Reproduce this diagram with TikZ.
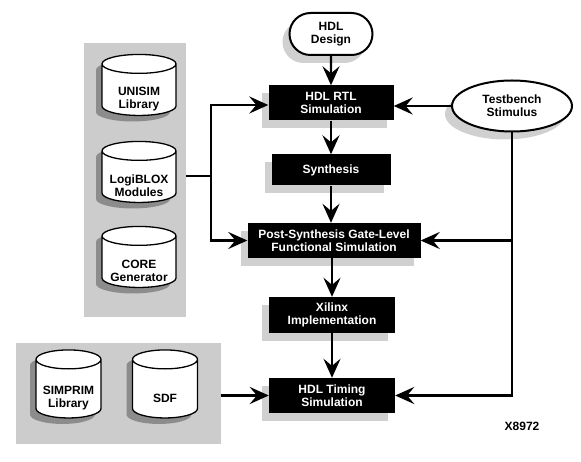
\documentclass[tikz,border=0pt]{standalone}
\usepackage{fontspec}
\setmainfont{Liberation Sans}
\usepackage{tikz}
\usetikzlibrary{calc, positioning, arrows.meta, shapes.geometric, shapes.misc, shadows}

\definecolor{panelgray}{RGB}{204,204,204}
\definecolor{boxshade}{RGB}{208,208,208}
\definecolor{cylshade}{RGB}{140,140,140}

\begin{document}
\begin{tikzpicture}[x=1pt, y=-1pt,
        font=\fontsize{12}{13}\selectfont\bfseries,
        every node/.style={align=center, inner sep=0pt},
        panel/.style={fill=panelgray},
        flowbox/.style={fill=black, text=white, minimum height=35pt,
            general shadow={fill=boxshade, shadow xshift=-7pt, shadow yshift=-8pt}},
        database/.style={cylinder, shape border rotate=90, aspect=0.35, draw, line width=1.3pt,
            fill=white, text width=54pt, minimum width=74pt, minimum height=61pt,
            general shadow={fill=cylshade, shadow xshift=-6pt, shadow yshift=-6pt},
            label={[yshift=-9pt]center:#1}},
        source/.style={draw, line width=2pt, fill=white,
            general shadow={fill=boxshade, shadow xshift=-7pt, shadow yshift=-8pt}},
        flow/.style={line width=2.2pt, -{Stealth[length=19pt, width=17pt, inset=7pt]}},
        wire/.style={line width=2.2pt}]
    \useasboundingbox (0,0) rectangle (581,462);

    % library panels
    \node[panel, minimum width=102pt, minimum height=274pt] (libpanel) at (135,180) {};
    \node[panel, minimum width=205pt, minimum height=101pt] (simpanel) at (118.5,393.5) {};
    \node[database={UNISIM\\Library}] (unisim) at (139,90) {};
    \node[database={LogiBLOX\\Modules}] (logiblox) at (139,177) {};
    \node[database={CORE\\Generator}] (coregen) at (139,262) {};
    \node[database={SIMPRIM\\Library}, minimum width=65pt, minimum height=68pt] (simprim) at (68.5,389) {};
    \node[database={SDF}, minimum width=65pt, minimum height=68pt] (sdf) at (165,389) {};

    % design flow
    \node[source, rounded rectangle, minimum width=83pt, minimum height=42pt] (hdldesign) at (331,34) {HDL\\Design};
    \node[flowbox, minimum width=125pt] (rtlsim) at (331,103) {HDL RTL\\Simulation};
    \node[flowbox, minimum width=119pt, minimum height=31pt] (synth) at (331,170) {Synthesis};
    \node[flowbox, minimum width=173pt] (postsyn) at (334,240.5) {Post-Synthesis Gate-Level\\Functional Simulation};
    \node[flowbox, minimum width=126pt, minimum height=36pt] (impl) at (332,315) {Xilinx\\Implementation};
    \node[flowbox, minimum width=126pt] (timing) at (332,395.5) {HDL Timing\\Simulation};
    \node[source, ellipse, minimum width=120pt, minimum height=51pt] (stim) at (512,106) {Testbench\\Stimulus};
    \node (fignum) at (522,426) {X8972};

    \draw[flow] (hdldesign) -- (rtlsim);
    \draw[flow] (rtlsim) -- (synth);
    \draw[flow] (synth) -- (postsyn.north -| synth);
    \draw[flow] (postsyn.south -| impl) -- (impl);
    \draw[flow] (impl) -- (timing);

    % libraries feed the simulations
    \coordinate (libjoin) at (211,176);
    \draw[wire] (libpanel.east |- libjoin) -- (libjoin);
    \draw[flow] (libjoin) |- (rtlsim.west |- 0,105);
    \draw[flow] (libjoin) |- (postsyn.west);
    \draw[flow] (simpanel.east |- timing.west) -- (timing.west);

    % stimulus
    \draw[flow] (stim.west) -- (stim.west -| rtlsim.east);
    \draw[flow] (stim.south) |- (timing.east);
    \draw[flow] (stim.south |- postsyn.east) -- (postsyn.east);
\end{tikzpicture}
\end{document}
